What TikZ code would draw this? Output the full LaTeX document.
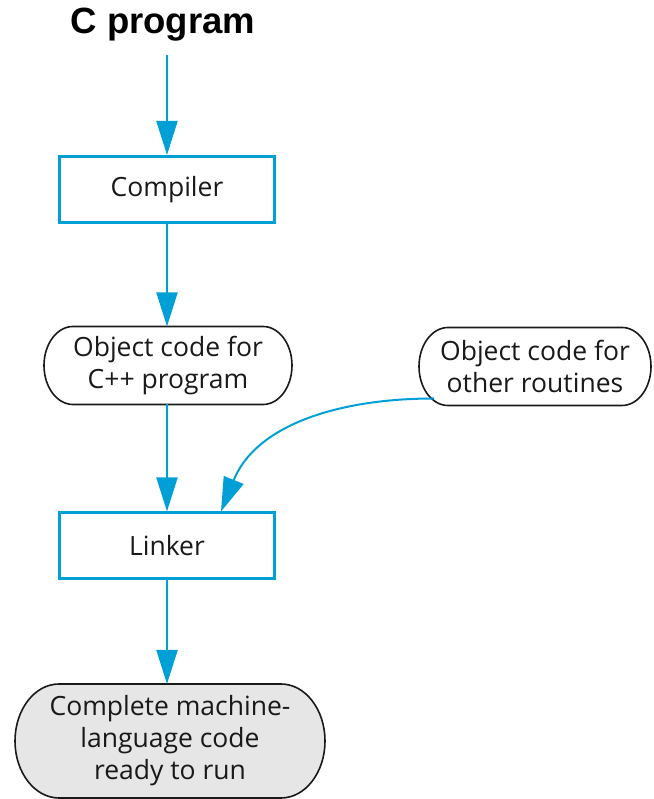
\documentclass[tikz,border=0pt]{standalone}
\usepackage{fontspec}
\setmainfont{Open Sans}
\newfontfamily\titlefont{Liberation Sans}
\usetikzlibrary{arrows.meta}
\definecolor{flowblue}{RGB}{0,160,214}
\definecolor{capfill}{RGB}{230,230,230}
\definecolor{ink}{RGB}{25,25,25}
\pgfdeclarelayer{bg}
\pgfsetlayers{bg,main}
% outline of a pill-shaped node: name, end x radius, end y radius
\newcommand\pillborder[4][]{%
  \begin{pgfonlayer}{bg}
    \draw[pilledge,#1] ([xshift=#3pt]#2.north west) -- ([xshift=-#3pt]#2.north east)
      arc[start angle=90,end angle=-90,x radius=#3pt,y radius=#4pt]
      -- ([xshift=#3pt]#2.south west)
      arc[start angle=270,end angle=90,x radius=#3pt,y radius=#4pt] -- cycle;
  \end{pgfonlayer}}
\begin{document}
\begin{tikzpicture}[x=1pt,y=1pt,
  flow/.style={draw=flowblue,line width=2pt,-{Triangle[length=34pt,width=21pt]}},
  stagebox/.style={draw=flowblue,line width=3pt,minimum width=215pt,minimum height=66pt,
    inner sep=0pt,text=ink,font=\fontsize{26.5}{32}\selectfont},
  pill/.style={inner sep=0pt,outer sep=0pt,align=center,text=ink,
    font=\fontsize{26.5}{32}\selectfont},
  pilledge/.style={draw=ink,line width=1.6pt},
  titletext/.style={inner sep=0pt,font=\titlefont\bfseries\fontsize{36.5}{42}\selectfont}]
\useasboundingbox (0,0) rectangle (653,799);

\node[titletext,anchor=base] (title) at (163,765) {C program};
\coordinate (feed) at (167,744);
\node[stagebox] (compiler) at (167,609.5) {Compiler};
\node[pill,minimum width=248pt,minimum height=78pt] (objc) at (168,433.5)
  {Object code for\\C++ program};
\node[pill,minimum width=232pt,minimum height=78pt] (objo) at (535,432.5)
  {Object code for\\other routines};
\node[stagebox] (linker) at (167,253) {Linker};
\node[pill,minimum width=310pt,minimum height=114pt] (final) at (170,58)
  {Complete machine-\\language code\\ready to run};

\pillborder{objc}{29}{39}
\pillborder{objo}{29}{39}
\pillborder[fill=capfill]{final}{44}{57}

\draw[flow] (feed) -- (compiler.north);
\draw[flow] (compiler.south) -- (compiler.south |- objc.north);
\draw[flow] (linker.north |- objc.south) -- (linker.north);
\draw[flow] (linker.south) -- (linker.south |- final.north);
\coordinate (tap) at ([xshift=15pt,yshift=7pt]objo.south west);
\draw[flow] (tap) to[out=180,in=68] ([xshift=54pt]linker.north);
\end{tikzpicture}
\end{document}
